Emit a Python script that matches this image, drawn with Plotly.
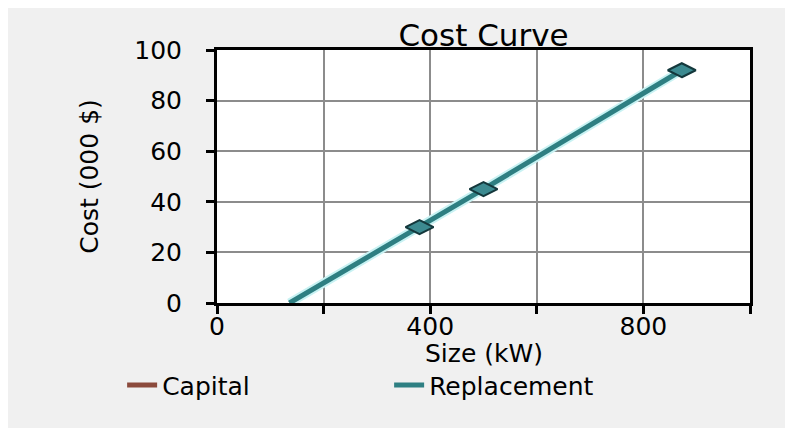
import plotly.graph_objects as go

size_kw = [136, 380, 500, 872]
capital_cost = [0, 30, 45, 92]
replacement_cost = [0, 30, 45, 92]
marker_size_kw = [380, 500, 872]
marker_cost = [30, 45, 92]
x_tick_vals = [0, 200, 400, 600, 800, 1000]
x_tick_text = ["0", "", "400", "", "800", ""]
y_tick_vals = [0, 20, 40, 60, 80, 100]

FONT = "DejaVu Sans"
W, H = 785, 420  # page adds an 8px body margin

fig = go.Figure()
fig.add_trace(go.Scatter(x=size_kw, y=capital_cost, mode="lines", name="Capital",
                         line=dict(color="#8b4a3c", width=5)))
fig.add_trace(go.Scatter(x=size_kw, y=replacement_cost, mode="lines", showlegend=False,
                         hoverinfo="skip", line=dict(color="#c8f2f3", width=9)))
fig.add_trace(go.Scatter(x=size_kw, y=replacement_cost, mode="lines", name="Replacement",
                         line=dict(color="#2e7f82", width=5)))
fig.add_trace(go.Scatter(x=marker_size_kw, y=marker_cost, mode="markers", showlegend=False,
                         marker=dict(symbol="diamond-wide", size=20, color="#3c8a90",
                                     line=dict(color="#14383c", width=2))))

fig.update_layout(
    width=W, height=H,
    paper_bgcolor="#f0f0f0", plot_bgcolor="white",
    margin=dict(l=209, r=43, t=42, b=125),
    font=dict(family=FONT, color="black", size=22),
    title=dict(text="Cost Curve", x=0.5, xref="paper", xanchor="center",
               y=1 - 27 / H, yanchor="middle", font=dict(size=31, family=FONT)),
    showlegend=True,
    legend=dict(orientation="h", x=-0.178, xanchor="left", y=-0.325, yanchor="middle",
                bgcolor="rgba(0,0,0,0)", font=dict(size=25, family=FONT),
                entrywidth=222, entrywidthmode="pixels"),
    annotations=[dict(text="Size (kW)", xref="paper", yref="paper", x=0.5, y=-0.2,
                      xanchor="center", yanchor="middle", showarrow=False,
                      font=dict(size=25, family=FONT, color="black"))],
)
fig.update_xaxes(range=[0, 1000], tickvals=x_tick_vals, ticktext=x_tick_text,
                 showgrid=True, gridcolor="#8c8c8c", gridwidth=2,
                 showline=True, linecolor="black", linewidth=3, mirror=True,
                 ticks="outside", ticklen=8, tickwidth=3, tickcolor="black",
                 tickfont=dict(size=25), zeroline=False, ticklabelstandoff=-9)
fig.update_yaxes(range=[0, 100], tickvals=y_tick_vals,
                 showgrid=True, gridcolor="#8c8c8c", gridwidth=2,
                 showline=True, linecolor="black", linewidth=3, mirror=True,
                 ticks="outside", ticklen=8, tickwidth=3, tickcolor="black",
                 tickfont=dict(size=25), zeroline=False, ticklabelstandoff=19,
                 title=dict(text="Cost (000 $)", font=dict(size=25), standoff=29))

fig.write_html("out.html")
